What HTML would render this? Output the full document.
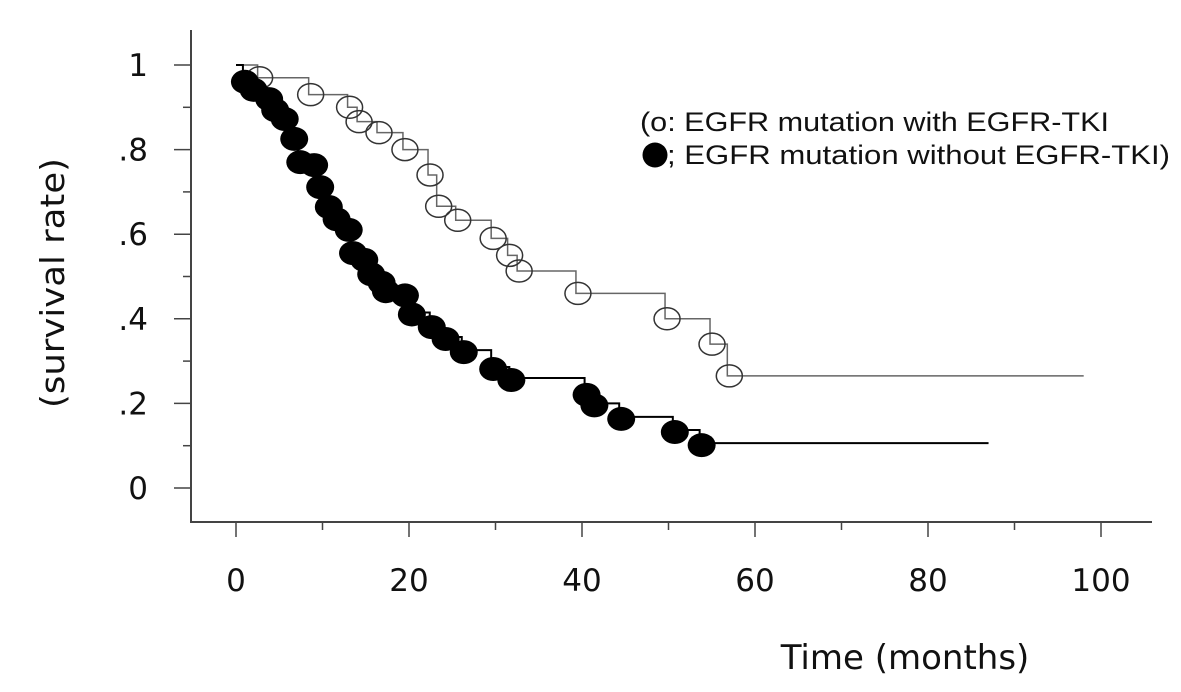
<!DOCTYPE html>
<html><head><meta charset="utf-8"><style>
html,body{margin:0;padding:0;background:#fff;width:1181px;height:692px;overflow:hidden}
svg text{font-family:"DejaVu Sans","Liberation Sans",sans-serif;fill:#111}
</style></head><body>
<svg id="chart" width="1181" height="692" viewBox="0 0 1181 692" xmlns="http://www.w3.org/2000/svg">
<g id="axes"></g>
<g id="series-open"></g>
<g id="series-filled"></g>
<text transform="translate(64,283) rotate(-90)" text-anchor="middle" font-size="33" textLength="250" lengthAdjust="spacingAndGlyphs">(survival rate)</text>
<text x="905" y="669" text-anchor="middle" font-size="34">Time (months)</text>
<g>
<text x="640" y="131" font-size="27" textLength="469" lengthAdjust="spacingAndGlyphs" style="font-family:'Liberation Sans',sans-serif">(o: EGFR mutation with EGFR-TKI</text>
<ellipse cx="655" cy="155" rx="12.5" ry="12.5" fill="#000"></ellipse>
<text x="667" y="164" font-size="27" textLength="503" lengthAdjust="spacingAndGlyphs" style="font-family:'Liberation Sans',sans-serif">; EGFR mutation without EGFR-TKI)</text>
</g>
</svg>
<script>
const xTicks = [0, 20, 40, 60, 80, 100];
const yTicks = [0, 0.2, 0.4, 0.6, 0.8, 1];
const yTickLabels = ["0", ".2", ".4", ".6", ".8", "1"];
const openTimes = [2.5, 8.4, 12.9, 14.0, 16.3, 19.3, 22.2, 23.2, 25.4, 29.5, 31.4, 32.5, 39.3, 49.6, 54.8, 56.8];
const openSurv  = [0.97, 0.93, 0.90, 0.866, 0.84, 0.80, 0.74, 0.666, 0.633, 0.59, 0.55, 0.513, 0.46, 0.40, 0.34, 0.265];
const openEnd = 98;
const filledTimes = [0.8, 1.8, 3.6, 4.3, 5.4, 6.5, 7.2, 8.8, 9.5, 10.5, 11.4, 12.8, 13.3, 14.6, 15.4, 16.6, 17.1, 19.3, 20.1, 22.4, 24, 26.1, 29.5, 31.6, 40.3, 41.2, 44.3, 50.5, 53.6];
const filledSurv  = [0.965, 0.946, 0.924, 0.898, 0.877, 0.83, 0.775, 0.768, 0.716, 0.669, 0.64, 0.615, 0.56, 0.544, 0.51, 0.49, 0.47, 0.46, 0.415, 0.385, 0.357, 0.326, 0.286, 0.26, 0.225, 0.20, 0.168, 0.137, 0.106];
const filledEnd = 87;

const NS = "http://www.w3.org/2000/svg";
const sx = t => 236 + t * 8.65;
const sy = v => 488 - v * 423;
function mk(tag, attrs, parent) {
  const e = document.createElementNS(NS, tag);
  for (const k in attrs) e.setAttribute(k, attrs[k]);
  parent.appendChild(e);
  return e;
}
const axes = document.getElementById('axes');
let l = mk('line', {x1:191, y1:30, x2:191, y2:522, stroke:'#444', 'stroke-width':2}, axes);


l = mk('line', {x1:190, y1:522, x2:1152, y2:522, stroke:'#444', 'stroke-width':2}, axes);


for (let i = 0; i < xTicks.length; i++) {
  const x = sx(xTicks[i]);
  const t = mk('line', {x1:x, y1:522, x2:x, y2:537, stroke:'#444', 'stroke-width':1.5}, axes);
  
  
  if (i < xTicks.length - 1) {
    const xm = sx(xTicks[i] + 10);
    const m = mk('line', {x1:xm, y1:522, x2:xm, y2:530, stroke:'#444', 'stroke-width':1.5}, axes);
    
    
  }
  const lb = mk('text', {x:x, y:591, 'text-anchor':'middle', 'font-size':31}, axes);
  lb.textContent = String(xTicks[i]);
  
  
}
for (let i = 0; i < yTicks.length; i++) {
  const y = sy(yTicks[i]);
  const t = mk('line', {x1:174, y1:y, x2:191, y2:y, stroke:'#444', 'stroke-width':1.5}, axes);
  
  
  if (i < yTicks.length - 1) {
    const ym = sy(yTicks[i] + 0.1);
    const m = mk('line', {x1:183, y1:ym, x2:191, y2:ym, stroke:'#444', 'stroke-width':1.5}, axes);
    
    
  }
  const lb = mk('text', {x:148, y:y + 11, 'text-anchor':'end', 'font-size':31}, axes);
  lb.textContent = yTickLabels[i];
  
  
}
function stepPath(times, surv, end) {
  let d = 'M' + sx(0) + ',' + sy(1);
  let prev = 1;
  for (let i = 0; i < times.length; i++) {
    d += ' L' + sx(times[i]) + ',' + sy(prev) + ' L' + sx(times[i]) + ',' + sy(surv[i]);
    prev = surv[i];
  }
  d += ' L' + sx(end) + ',' + sy(prev);
  return d;
}
const go = document.getElementById('series-open');
let p = mk('path', {d: stepPath(openTimes, openSurv, openEnd), fill:'none', stroke:'#666', 'stroke-width':1.5}, go);


for (let i = 0; i < openTimes.length; i++) {
  const c = mk('ellipse', {cx: sx(openTimes[i]) + 2, cy: sy(openSurv[i]), rx:13, ry:11, fill:'none', stroke:'#333', 'stroke-width':1.5}, go);
  
  
}
const gf = document.getElementById('series-filled');
p = mk('path', {d: stepPath(filledTimes, filledSurv, filledEnd), fill:'none', stroke:'#000', 'stroke-width':2}, gf);


for (let i = 0; i < filledTimes.length; i++) {
  const c = mk('ellipse', {cx: sx(filledTimes[i]) + 2, cy: sy(filledSurv[i]) + 2, rx:14, ry:12, fill:'#000'}, gf);
  
  
}
</script>
</body></html>
